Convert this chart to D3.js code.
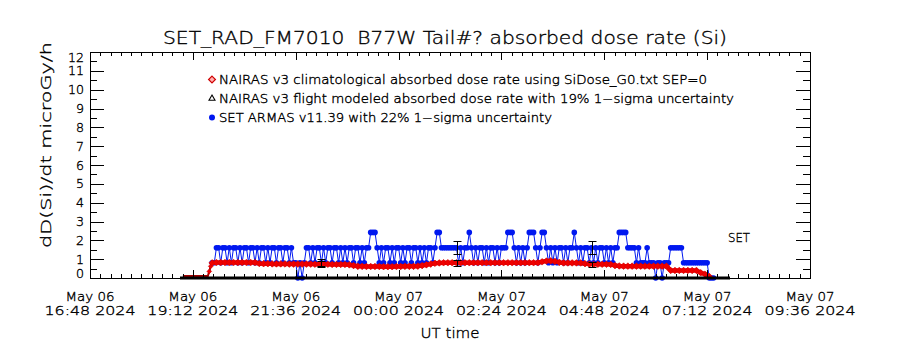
<!DOCTYPE html>
<html>
<head>
<meta charset="utf-8">
<script src="https://cdn.jsdelivr.net/npm/d3@7"></script>
<style>
  body { margin: 0; background: #fff; }
  svg text { font-family: "DejaVu Sans", sans-serif; font-weight: 200; fill: #000; stroke: #000; stroke-width: 0.35px; }
</style>
</head>
<body>
<svg id="chart" width="900" height="350"></svg>
<script>
// ---- axis definitions ----
const xDomain = ["2024-05-06T16:48Z", "2024-05-07T09:36Z"];
const xTickTimes = ["2024-05-06T16:48Z", "2024-05-06T19:12Z", "2024-05-06T21:36Z", "2024-05-07T00:00Z",
                    "2024-05-07T02:24Z", "2024-05-07T04:48Z", "2024-05-07T07:12Z", "2024-05-07T09:36Z"];
const xTickDay = ["May 06", "May 06", "May 06", "May 07", "May 07", "May 07", "May 07", "May 07"];
const xTickClock = ["16:48 2024", "19:12 2024", "21:36 2024", "00:00 2024",
                    "02:24 2024", "04:48 2024", "07:12 2024", "09:36 2024"];
const yTicks = [0, 1, 2, 3, 4, 5, 6, 7, 8, 9, 10, 11, 12];

// ---- SET ARMAS measured dose rate (3-minute samples, quantised levels) ----
const armasStart = "2024-05-06T19:39Z";
const armasStepMin = 3;
const armasLevelDose = [0, 0.81, 1.61, 2.42];
const armasLevels =
  "11" +
  "2212212122" + "1212212212" + "1221212212" + "21221211" +
  "0101" +
  "2212122121" + "2212212121" + "221221212" +
  "23332" +
  "1212212122" + "1212212212" + "121221" +
  "2332" +
  "22222221212" +
  "232" +
  "1212212122" + "12122" +
  "23332" +
  "12121" +
  "233321" +
  "23321" +
  "2121221212" +
  "232" +
  "1212212121" + "22121212" +
  "233332" +
  "22212111" +
  "21" +
  "110110111" +
  "2222221" +
  "11111111" +
  "111000";

// ---- NAIRAS v3 climatological dose rate ----
const climLeadTimes = ["2024-05-06T18:58Z", "2024-05-06T19:33Z", "2024-05-06T19:35Z", "2024-05-06T19:37Z"];
const climLeadRate = [0.10, 0.10, 0.35, 0.62];
const climStart = "2024-05-06T19:39Z";
const climStepMin = 6;
const climRate = [
  0.80,
  0.82, 0.82, 0.82, 0.82, 0.82, 0.82, 0.82, 0.82, 0.82, 0.82,
  0.77, 0.76, 0.76, 0.75, 0.75, 0.75, 0.75, 0.74, 0.74, 0.74, 0.74, 0.74,
  0.74, 0.73, 0.73, 0.73, 0.73, 0.72, 0.72, 0.72, 0.72, 0.70, 0.66,
  0.62, 0.62, 0.61, 0.61, 0.61, 0.61, 0.60, 0.60, 0.60, 0.61, 0.61, 0.62, 0.62, 0.62, 0.63,
  0.66, 0.70, 0.74, 0.78, 0.80,
  0.81, 0.81, 0.81, 0.81, 0.81, 0.81, 0.81, 0.81, 0.81, 0.81, 0.81, 0.81,
  0.81, 0.81, 0.81, 0.81, 0.81, 0.81, 0.81, 0.81, 0.81, 0.81, 0.81,
  0.86, 0.90, 0.91, 0.88, 0.83,
  0.80, 0.80, 0.80, 0.80, 0.80,
  0.76, 0.74, 0.73, 0.73, 0.73, 0.73, 0.72,
  0.66, 0.64, 0.63, 0.63, 0.63, 0.63, 0.63, 0.63, 0.63, 0.63, 0.63, 0.63, 0.63,
  0.40, 0.40, 0.40, 0.40, 0.40, 0.40, 0.40,
  0.28, 0.20, 0.08
];

// ---- NAIRAS v3 flight modeled dose rate ----
const flightModelTimes = ["2024-05-06T18:54Z", "2024-05-07T07:44Z"];
const flightModelRate = [0, 0];

// ---- 1-sigma uncertainty samples ----
const sigmaTimes = ["2024-05-06T22:11Z", "2024-05-07T01:22Z", "2024-05-07T04:31Z"];
const sigmaArmas = [0.81, 1.61, 1.61];
const sigmaClim = [0.75, 0.81, 0.73];
const armasSigmaPct = 0.22;
const modelSigmaPct = 0.19;

// ---- layout ----
const plot = { left: 90, right: 810, top: 52, bottom: 278 };
const svg = d3.select("#chart");

const x = d3.scaleUtc()
  .domain(xDomain.map(d => new Date(d)))
  .range([plot.left, plot.right]);
const y = d3.scaleLinear().domain([0, 12]).range([plot.bottom, plot.top]);

const minute = 60000;
const armasData = Array.from(armasLevels, (c, i) => ({
  t: new Date(+new Date(armasStart) + i * armasStepMin * minute),
  v: armasLevelDose[+c]
}));
const climLead = climLeadTimes.map((t, i) => ({ t: new Date(t), v: climLeadRate[i] }));
const climDense = climRate.map((v, i) => ({ t: new Date(+new Date(climStart) + i * climStepMin * minute), v }));
const modelData = flightModelTimes.map((t, i) => ({ t: new Date(t), v: flightModelRate[i] }));

const line = d3.line().x(d => x(d.t)).y(d => y(d.v));
const BLUE = "#0018f0", RED = "#f00000";

// ---- series ----
const gData = svg.append("g");

// ARMAS: thin connecting line plus filled dots
gData.append("path").datum(armasData)
  .attr("d", line).attr("fill", "none")
  .attr("stroke", BLUE).attr("stroke-width", 1);
gData.append("g").selectAll("circle").data(armasData).join("circle")
  .attr("cx", d => x(d.t)).attr("cy", d => y(d.v)).attr("r", 2.8)
  .attr("fill", BLUE);

// climatological: thin trace while climbing, heavy red trace at cruise, diamonds on samples
gData.append("path").datum(climLead.concat(climDense.slice(0, 1)))
  .attr("d", line).attr("fill", "none")
  .attr("stroke", "#a00000").attr("stroke-width", 2);
gData.append("path").datum(climDense)
  .attr("d", line).attr("fill", "none")
  .attr("stroke", RED).attr("stroke-width", 4.5).attr("stroke-linejoin", "round");
const diamond = d3.symbol().type(d3.symbolDiamond2);
gData.append("g").selectAll("path").data(climLead.slice(2).concat(climDense)).join("path")
  .attr("d", (d, i) => diamond.size(i < 2 ? 14 : 28)())
  .attr("transform", d => `translate(${x(d.t)},${y(d.v)})`)
  .attr("fill", RED).attr("stroke", "#d00000").attr("stroke-width", 0.6);

// flight modeled dose rate
gData.append("path").datum(modelData)
  .attr("d", line).attr("fill", "none")
  .attr("stroke", "#000").attr("stroke-width", 3.2);

// uncertainty bars
const capW = 4;
function sigmaBar(t, v, pct) {
  const xx = Math.round(x(new Date(t))) + 0.5;
  const y0 = Math.round(y(v * (1 - pct))) + 0.5, y1 = Math.round(y(v * (1 + pct))) + 0.5;
  const g = gData.append("g").attr("stroke", "#000").attr("stroke-width", 1).attr("fill", "none");
  g.append("line").attr("x1", xx).attr("x2", xx).attr("y1", y0).attr("y2", y1);
  g.append("line").attr("x1", xx - capW).attr("x2", xx + capW).attr("y1", y0).attr("y2", y0);
  g.append("line").attr("x1", xx - capW).attr("x2", xx + capW).attr("y1", y1).attr("y2", y1);
}
sigmaTimes.forEach((t, i) => {
  sigmaBar(t, sigmaArmas[i], armasSigmaPct);
  sigmaBar(t, sigmaClim[i], modelSigmaPct);
});

// ---- axes & frame ----
const gAxes = svg.append("g").attr("shape-rendering", "crispEdges");
const xMajor = xTickTimes.map(d => new Date(d));
const t0 = +xMajor[0], tEnd = +xMajor[xMajor.length - 1];
const minorStep = (xMajor[1] - xMajor[0]) / 10;
const xMinor = d3.range(t0, tEnd + 1, minorStep).map(d => new Date(d));
const yMinor = d3.range(0.5, 12, 1);

function strip(g) { g.select(".domain").remove(); g.selectAll("text").remove(); g.selectAll("line").attr("stroke", "#000"); }

gAxes.append("g").attr("transform", `translate(0,${plot.bottom})`)
  .call(d3.axisBottom(x).tickValues(xMinor).tickSize(-4)).call(strip);
gAxes.append("g").attr("transform", `translate(0,${plot.bottom})`)
  .call(d3.axisBottom(x).tickValues(xMajor).tickSize(-8)).call(strip);
gAxes.append("g").attr("transform", `translate(0,${plot.top})`)
  .call(d3.axisTop(x).tickValues(xMinor).tickSize(-4)).call(strip);
gAxes.append("g").attr("transform", `translate(0,${plot.top})`)
  .call(d3.axisTop(x).tickValues(xMajor).tickSize(-8)).call(strip);
gAxes.append("g").attr("transform", `translate(${plot.left},0)`)
  .call(d3.axisLeft(y).tickValues(yTicks).tickSize(-14)).call(strip);
gAxes.append("g").attr("transform", `translate(${plot.left},0)`)
  .call(d3.axisLeft(y).tickValues(yMinor).tickSize(-7)).call(strip);
gAxes.append("g").attr("transform", `translate(${plot.right},0)`)
  .call(d3.axisRight(y).tickValues(yTicks).tickSize(-14)).call(strip);
gAxes.append("g").attr("transform", `translate(${plot.right},0)`)
  .call(d3.axisRight(y).tickValues(yMinor).tickSize(-7)).call(strip);

gAxes.append("rect")
  .attr("x", plot.left + 0.5).attr("y", plot.top + 0.5)
  .attr("width", plot.right - plot.left).attr("height", plot.bottom - plot.top)
  .attr("fill", "none").attr("stroke", "#000").attr("stroke-width", 1);

// y tick labels (kept inside the frame's vertical extent)
svg.append("g").selectAll("text").data(yTicks).join("text")
  .attr("x", 84)
  .attr("y", d => Math.min(Math.max(y(d), plot.top + 5.5), plot.bottom - 5) + 4.5)
  .attr("text-anchor", "end").attr("font-size", 12)
  .attr("textLength", d => d >= 10 ? 16 : 8).attr("lengthAdjust", "spacingAndGlyphs")
  .text(d => d);

// x tick labels: date line and clock/year line
const gx = svg.append("g").attr("text-anchor", "middle").attr("font-size", 12.5);
xMajor.forEach((t, i) => {
  gx.append("text").attr("x", x(t)).attr("y", 300.5).attr("textLength", 49)
    .attr("lengthAdjust", "spacingAndGlyphs").text(xTickDay[i]);
  gx.append("text").attr("x", x(t)).attr("y", 315).attr("textLength", 91)
    .attr("lengthAdjust", "spacingAndGlyphs").text(xTickClock[i]);
});

// axis titles
svg.append("text").attr("x", 450).attr("y", 337.5).attr("text-anchor", "middle")
  .attr("font-size", 13.5).attr("textLength", 59).attr("lengthAdjust", "spacingAndGlyphs")
  .text("UT time");
svg.append("text").attr("transform", "translate(51,145) rotate(-90)")
  .attr("text-anchor", "middle").attr("font-size", 14.5)
  .attr("textLength", 206).attr("lengthAdjust", "spacingAndGlyphs")
  .text("dD(Si)/dt microGy/h");

// chart title
svg.append("text").attr("x", 163).attr("y", 43.5)
  .attr("font-size", 17.5).attr("textLength", 564).attr("lengthAdjust", "spacingAndGlyphs")
  .attr("xml:space", "preserve")
  .text("SET_RAD_FM7010  B77W Tail#? absorbed dose rate (Si)");

// instrument tag
svg.append("text").attr("x", 728).attr("y", 242).attr("font-size", 13)
  .attr("textLength", 22).attr("lengthAdjust", "spacingAndGlyphs").text("SET");

// ---- legend ----
const legendItems = [
  { label: "NAIRAS v3 climatological absorbed dose rate using SiDose_G0.txt SEP=0", len: 488, sym: "diamond" },
  { label: "NAIRAS v3 flight modeled absorbed dose rate with 19% 1\u2212sigma uncertainty", len: 515, sym: "triangle" },
  { label: "SET ARMAS v11.39 with 22% 1\u2212sigma uncertainty", len: 333, sym: "dot" }
];
const gl = svg.append("g");
legendItems.forEach((it, i) => {
  const by = 84 + i * 19;
  const sy = by - 4.5;
  if (it.sym === "diamond") {
    gl.append("path").attr("d", d3.symbol().type(d3.symbolDiamond2).size(30))
      .attr("transform", `translate(212,${sy})`)
      .attr("fill", "#ffb0b0").attr("stroke", "#d00000").attr("stroke-width", 1.2);
  } else if (it.sym === "triangle") {
    gl.append("path").attr("d", d3.symbol().type(d3.symbolTriangle2).size(26))
      .attr("transform", `translate(212,${sy})`)
      .attr("fill", "#fff").attr("stroke", "#000").attr("stroke-width", 1.1);
  } else {
    gl.append("circle").attr("cx", 212).attr("cy", sy).attr("r", 3).attr("fill", BLUE);
  }
  gl.append("text").attr("x", 219).attr("y", by).attr("font-size", 11.5)
    .attr("textLength", it.len).attr("lengthAdjust", "spacingAndGlyphs")
    .text(it.label);
});
</script>
</body>
</html>
